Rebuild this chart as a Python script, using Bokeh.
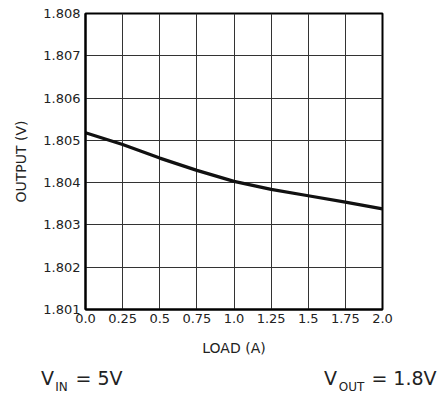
from bokeh.plotting import figure
from bokeh.models import Range1d, FixedTicker, LinearAxis
from bokeh.layouts import column, row
from bokeh.embed import file_html
from bokeh.resources import INLINE

# Data
load = [0.0, 0.25, 0.5, 0.75, 1.0, 1.25, 1.5, 1.75, 2.0]
output = [1.80518, 1.80490, 1.80458, 1.80429, 1.80403, 1.80384, 1.80369, 1.80354, 1.80338]

x_ticks = [0.0, 0.25, 0.5, 0.75, 1.0, 1.25, 1.5, 1.75, 2.0]
x_tick_labels = ["0.0", "0.25", "0.5", "0.75", "1.0", "1.25", "1.5", "1.75", "2.0"]
y_ticks = [1.801, 1.802, 1.803, 1.804, 1.805, 1.806, 1.807, 1.808]
y_tick_labels = ["1.801", "1.802", "1.803", "1.804", "1.805", "1.806", "1.807", "1.808"]

# Footnote texts (main parts and subscripts)
note_main = ["V", "= 5V", "V", "= 1.8V"]
note_sub = ["IN", "OUT"]

FONT = "DejaVu Sans"

p = figure(frame_width=297, frame_height=296,
           min_border_left=85, min_border_right=61,
           min_border_top=13, min_border_bottom=51,
           x_range=Range1d(0, 2), y_range=Range1d(1.801, 1.808),
           output_backend="svg", toolbar_location=None)

p.background_fill_color = "white"
p.border_fill_color = "white"
p.outline_line_color = "black"
p.outline_line_width = 2

for ax, ticks, labels in ((p.xaxis[0], x_ticks, x_tick_labels), (p.yaxis[0], y_ticks, y_tick_labels)):
    ax.ticker = FixedTicker(ticks=ticks)
    ax.major_label_overrides = {t: l for t, l in zip(ticks, labels)}
    ax.major_tick_in = 0
    ax.major_tick_out = 0
    ax.minor_tick_in = 0
    ax.minor_tick_out = 0
    ax.axis_line_color = "black"
    ax.axis_line_width = 2
    ax.major_label_text_font = FONT
    ax.major_label_text_font_size = "13px"
    ax.major_label_text_color = "#222222"
    ax.axis_label_text_font = FONT
    ax.axis_label_text_font_size = "14px"
    ax.axis_label_text_font_style = "normal"
    ax.axis_label_text_color = "#222222"

p.xaxis.axis_label = "LOAD (A)"
p.yaxis.axis_label = "OUTPUT (V)"
p.xaxis.major_label_standoff = 4
p.yaxis.major_label_standoff = 5
p.xaxis.axis_label_standoff = 14
p.yaxis.axis_label_standoff = 11

p.xgrid.ticker = FixedTicker(ticks=x_ticks)
p.ygrid.ticker = FixedTicker(ticks=y_ticks)
p.grid.grid_line_color = "#333333"
p.grid.grid_line_width = 1
p.grid.grid_line_alpha = 1

p.line(load, output, line_color="#111111", line_width=3.2)

# Footnote strip below the chart: texts drawn as axis labels (pixel-scaled x range)
f = figure(frame_width=443, frame_height=2,
           min_border_left=0, min_border_right=0, min_border_top=34, min_border_bottom=0,
           x_range=Range1d(0, 443), y_range=Range1d(0, 1),
           x_axis_location=None, y_axis_location=None,
           output_backend="svg", toolbar_location=None)
f.grid.visible = False
f.outline_line_color = None
f.background_fill_color = "white"
f.border_fill_color = "white"

main_pos = [47.0, 98.5, 330.0, 403.5]   # layout: centre of each text piece (px)
sub_pos = [61.0, 351.0]

def text_axis(pos, texts, size, standoff):
    ax = LinearAxis(ticker=FixedTicker(ticks=pos),
                    major_label_overrides={t: s for t, s in zip(pos, texts)},
                    major_label_text_font=FONT, major_label_text_font_size=size,
                    major_label_text_color="#222222", major_label_standoff=standoff,
                    major_tick_in=0, major_tick_out=0, minor_tick_in=0, minor_tick_out=0,
                    axis_line_color=None)
    f.add_layout(ax, "above")

text_axis(sub_pos, note_sub, "12px", 1)
text_axis(main_pos, note_main, "19px", -12)

open("out.html", "w").write(file_html(column(p, row(f), spacing=0), INLINE))
